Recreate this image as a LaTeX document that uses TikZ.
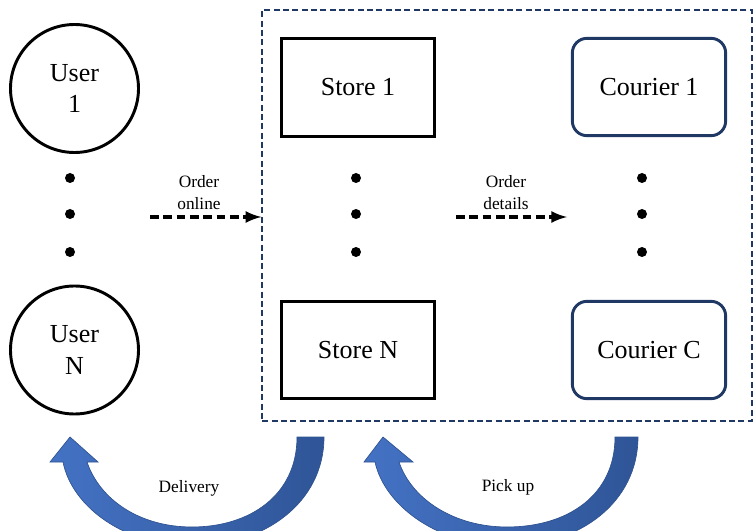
\documentclass[tikz,border=0pt]{standalone}
\usepackage{fontspec}
\setmainfont{Liberation Serif}
\usetikzlibrary{arrows}
\usetikzlibrary{positioning}
\definecolor{NavyBlue}{HTML}{203864}
\definecolor{ArrowBlue}{HTML}{4472C4}
\definecolor{ArrowDark}{HTML}{2F5597}
\definecolor{ArrowEdge}{HTML}{2F528F}
\tikzset{
  bigfont/.style={font=\fontsize{19.5}{23.5}\selectfont},
  smallfont/.style={font=\fontsize{13}{16.5}\selectfont},
  user/.style={draw,circle,line width=2.2pt,minimum size=96pt,inner sep=0pt,
    align=center,bigfont},
  store/.style={draw,rectangle,line width=2.2pt,minimum width=115pt,
    minimum height=73pt,bigfont},
  courier/.style={draw=NavyBlue,rectangle,rounded corners=11pt,line width=2.2pt,
    minimum width=115pt,minimum height=73pt,bigfont},
  dot/.style={circle,fill,inner sep=0pt,minimum size=7.5pt},
  flow/.style={line width=3pt,dash pattern=on 6.5pt off 3.5pt,-latex},
  curved/.style={left color=ArrowBlue,right color=ArrowDark,draw=ArrowEdge,
    line width=0.5pt}
}

\begin{document}
\begin{tikzpicture}[x=0.75pt,y=-0.75pt]
  \useasboundingbox (0,0) rectangle (754,531);
  \clip (0,0) rectangle (754,531);

  % platform frame
  \node[draw=NavyBlue,line width=1.5pt,dash pattern=on 4.5pt off 2.5pt,
    minimum width=367pt,minimum height=308pt,inner sep=0pt]
    (platform) at (507,215.5) {};

  \node[user] (user1) at (74.5,88.5) {User\\1};
  \node[user] (userN) at (74.5,350) {User\\N};

  \node[store] (store1) at (358,87.5) {Store 1};
  \node[store] (storeN) at (358,350) {Store N};

  \node[courier] (courier1) at (649,87) {Courier 1};
  \node[courier] (courierC) at (649,350) {Courier C};

  \foreach \x in {70,356,642}{%
    \foreach \y in {178,214,252}{%
      \node[dot] (dot-\x-\y) at (\x,\y) {};
    }
  }

  \coordinate (orderstart) at (150,217);
  \coordinate (detailstart) at (456,217);
  \coordinate (detailend) at (567,217);
  \draw[flow] (orderstart) -- (platform.west|-orderstart);
  \draw[flow] (detailstart) -- (detailend);
  \node[smallfont,align=center] (orderonline) at (199,193) {Order\\online};
  \node[smallfont,align=center] (orderdetails) at (506,193) {Order\\details};

  % curved arrows
  \draw[curved] (297,437) .. controls (297,495) and (250,527) .. (192,527)
    .. controls (140,527) and (100,500) .. (87,462)
    -- (98,462) -- (70,437) -- (50,462) -- (63,462)
    .. controls (72,507) and (125,546) .. (192,546)
    .. controls (265,546) and (324,502) .. (324,437) -- cycle;
  \draw[curved] (615,437) .. controls (615,495) and (568,527) .. (507,527)
    .. controls (455,527) and (412,500) .. (399,462)
    -- (413,462) -- (383,437) -- (364,462) -- (375,462)
    .. controls (385,507) and (440,546) .. (507,546)
    .. controls (580,546) and (638,502) .. (638,437) -- cycle;

  \node[smallfont] (delivery) at (189,488) {Delivery};
  \node[smallfont] (pickup) at (508,487) {Pick up};
\end{tikzpicture}
\end{document}
